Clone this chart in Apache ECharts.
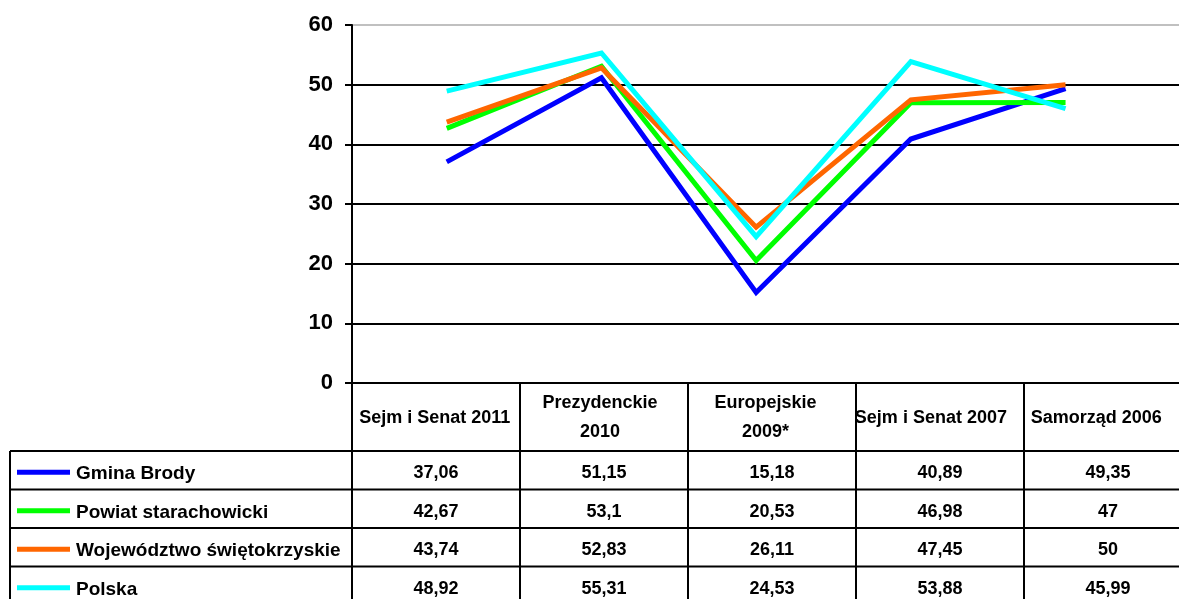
<!DOCTYPE html>
<html>
<head>
<meta charset="utf-8">
<script src="https://cdn.jsdelivr.net/npm/echarts@6/dist/echarts.min.js"></script>
<style>
  html, body { margin: 0; padding: 0; background: #fff; }
  #main { width: 1179px; height: 599px; }
</style>
</head>
<body>
<div id="main"></div>
<script>
// dane
const categories = ['Sejm i Senat 2011', 'Prezydenckie\n2010', 'Europejskie\n2009*', 'Sejm i Senat 2007', 'Samorząd 2006']
const seriesNames = ['Gmina Brody', 'Powiat starachowicki', 'Województwo świętokrzyskie', 'Polska']
const gminaBrody = [37.06, 51.15, 15.18, 40.89, 49.35]
const powiat = [42.67, 53.1, 20.53, 46.98, 47]
const wojewodztwo = [43.74, 52.83, 26.11, 47.45, 50]
const polska = [48.92, 55.31, 24.53, 53.88, 45.99]
const yTicks = [0, 10, 20, 30, 40, 50, 60]

const values = [gminaBrody, powiat, wojewodztwo, polska]
const colors = ['#0000ff', '#00ff00', '#ff6600', '#00ffff']
const FONT = 'Liberation Sans'

// uklad tabeli pod wykresem
const plotLeft = 352, plotTop = 25, plotBottom = 383
const colW = 168
const tableRight = plotLeft + colW * categories.length
const headerBottom = 451
const rowH = 38.5
const legendLeft = 10

const chart = echarts.init(document.getElementById('main'))

const graphic = []
const lineStyle = {stroke: '#000', lineWidth: 2}
// poziome linie wierszy
for (let r = 0; r <= seriesNames.length; r++) {
  const y = headerBottom + r * rowH
  graphic.push({type: 'line', shape: {x1: legendLeft, y1: y, x2: tableRight, y2: y}, style: lineStyle, z: 10})
}
// pionowe linie kolumn
graphic.push({type: 'line', shape: {x1: legendLeft, y1: headerBottom, x2: legendLeft, y2: headerBottom + rowH * 4}, style: lineStyle, z: 10})
for (let c = 0; c <= categories.length; c++) {
  const x = plotLeft + c * colW
  graphic.push({type: 'line', shape: {x1: x, y1: plotBottom, x2: x, y2: headerBottom + rowH * 4}, style: lineStyle, z: 10})
}
// legenda + wartosci
seriesNames.forEach((name, i) => {
  const cy = headerBottom + i * rowH + rowH / 2 + 2
  graphic.push({type: 'line', shape: {x1: 17, y1: cy, x2: 70, y2: cy}, style: {stroke: colors[i], lineWidth: 5}, z: 10})
  graphic.push({type: 'text', x: 76, y: cy + 2, style: {text: name, font: 'bold 19px ' + FONT, fill: '#000', verticalAlign: 'middle'}, z: 10})
  values[i].forEach((v, j) => {
    graphic.push({
      type: 'text', x: plotLeft + j * colW + colW / 2, y: cy + 1,
      style: {text: String(v).replace('.', ','), font: 'bold 18px ' + FONT, fill: '#000', align: 'center', verticalAlign: 'middle'},
      z: 10
    })
  })
})

const option = {
  animation: false,
  grid: [
    {left: plotLeft, top: plotTop, width: colW * categories.length, height: plotBottom - plotTop},
    // linie danych sa nieco scisniete wzgledem tabeli (jak w oryginale)
    {left: 369.4, top: plotTop, width: 773.5, height: plotBottom - plotTop}
  ],
  xAxis: [
    {
      type: 'category', gridIndex: 0, data: categories, boundaryGap: true,
      axisLine: {lineStyle: {color: '#000', width: 2}},
      axisTick: {show: false},
      axisLabel: {interval: 0, margin: 35, verticalAlign: 'middle', lineHeight: 29, color: '#000', fontFamily: FONT, fontWeight: 'bold', fontSize: 18}
    },
    {type: 'category', gridIndex: 1, data: categories, boundaryGap: true, show: false}
  ],
  yAxis: [
    {
      type: 'value', gridIndex: 0, min: yTicks[0], max: yTicks[yTicks.length - 1], interval: 10,
      axisLine: {show: true, lineStyle: {color: '#000', width: 2}},
      axisTick: {show: true, length: 7, lineStyle: {color: '#000', width: 2}},
      axisLabel: {margin: 19, color: '#000', fontFamily: FONT, fontWeight: 'bold', fontSize: 22},
      splitLine: {
        show: true,
        lineStyle: {color: ['#000', '#000', '#000', '#000', '#000', '#000', '#c0c0c0'], width: 2}
      }
    },
    {type: 'value', gridIndex: 1, min: 0, max: 60, show: false}
  ],
  series: seriesNames.map((name, i) => ({
    name: name,
    type: 'line',
    xAxisIndex: 1,
    yAxisIndex: 1,
    data: values[i],
    symbol: 'none',
    lineStyle: {color: colors[i], width: 5, join: 'miter'},
    z: 5 + i
  })),
  graphic: graphic
}
chart.setOption(option)
</script>
</body>
</html>
